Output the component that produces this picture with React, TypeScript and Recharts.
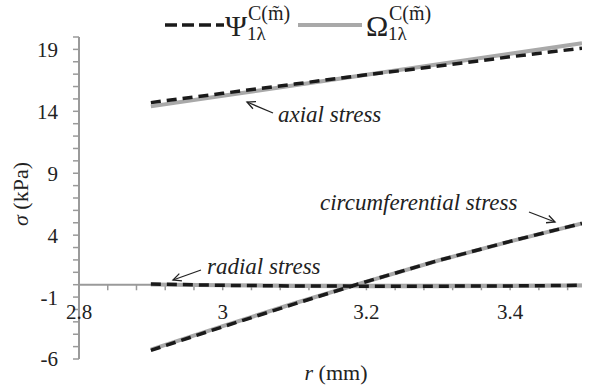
import React from "react";
import {
  LineChart,
  Line,
  XAxis,
  YAxis,
  ReferenceLine,
  Legend,
  Customized,
} from "recharts";

// radius r (mm)
const radius = [2.9, 3.0, 3.1, 3.2, 3.3, 3.4, 3.5];

// Ψ model (dashed black)
const psiAxial = [14.7, 15.45, 16.2, 16.95, 17.65, 18.4, 19.1];
const psiCircum = [-5.3, -3.4, -1.55, 0.25, 1.95, 3.5, 4.95];
const psiRadial = [0.05, -0.05, -0.1, -0.12, -0.12, -0.1, -0.05];

// Ω model (solid grey)
const omegaAxial = [14.4, 15.25, 16.1, 16.95, 17.8, 18.65, 19.5];
const omegaCircum = [-5.25, -3.35, -1.5, 0.25, 1.95, 3.5, 4.95];
const omegaRadial = [0.02, -0.05, -0.1, -0.12, -0.12, -0.1, -0.06];

const yTicks = [-6, -5, -4, -3, -2, -1, 0, 1, 2, 3, 4, 5, 6, 7, 8, 9, 10, 11, 12, 13, 14, 15, 16, 17, 18, 19, 20];
const yLabelled = [-6, -1, 4, 9, 14, 19];
const xTicks = [2.8, 2.84, 2.88, 2.92, 2.96, 3.0, 3.04, 3.08, 3.12, 3.16, 3.2, 3.24, 3.28, 3.32, 3.36, 3.4, 3.44, 3.48];
const xLabelled = [2.8, 3, 3.2, 3.4];

const rows = radius.map((r, i) => ({
  r,
  psiAxial: psiAxial[i],
  psiCircum: psiCircum[i],
  psiRadial: psiRadial[i],
  omegaAxial: omegaAxial[i],
  omegaCircum: omegaCircum[i],
  omegaRadial: omegaRadial[i],
}));

const SERIF = "Liberation Serif, DejaVu Serif, serif";
const AXIS = "#9a9a9a";
const INK = "#222";
const DASH = "#1a1a1a";
const GREY = "#a9a9a9";

function ModelLabel({ x, sym }: { x: number; sym: string }) {
  return (
    <g style={{ fontFamily: SERIF }} fill={INK}>
      <text x={x} y={36} fontSize={30}>{sym}</text>
      <text x={x + 23} y={20} fontSize={20}>C(m&#x0303;)</text>
      <text x={x + 22} y={40} fontSize={19}>1λ</text>
    </g>
  );
}

function LegendContent() {
  return (
    <div style={{ width: 590, height: 37, overflow: "visible" }}>
      <svg width={590} height={46} style={{ display: "block", overflow: "visible" }}>
        <line x1={165} x2={224} y1={25} y2={25} stroke={DASH} strokeWidth={3.5} strokeDasharray="12 5" />
        <ModelLabel x={225} sym="Ψ" />
        <line x1={298} x2={362} y1={25} y2={25} stroke={GREY} strokeWidth={4} />
        <ModelLabel x={366} sym="Ω" />
      </svg>
    </div>
  );
}

function Arrow({ x1, y1, x2, y2 }: { x1: number; y1: number; x2: number; y2: number }) {
  const a = Math.atan2(y2 - y1, x2 - x1);
  const len = 9;
  const spread = 0.45;
  const p1 = [x2 - len * Math.cos(a - spread), y2 - len * Math.sin(a - spread)];
  const p2 = [x2 - len * Math.cos(a + spread), y2 - len * Math.sin(a + spread)];
  return (
    <g stroke={INK} strokeWidth={1.3} fill="none">
      <line x1={x1} y1={y1} x2={x2} y2={y2} />
      <polyline points={`${p1[0]},${p1[1]} ${x2},${y2} ${p2[0]},${p2[1]}`} />
    </g>
  );
}

function Annotations() {
  return (
    <g style={{ fontFamily: SERIF }} fill={INK}>
      <text x={278} y={122} fontSize={23} fontStyle="italic">axial stress</text>
      <Arrow x1={273} y1={113} x2={247} y2={102} />
      <text x={320} y={210} fontSize={23} fontStyle="italic">circumferential stress</text>
      <Arrow x1={529} y1={212} x2={555} y2={222} />
      <text x={207} y={274} fontSize={23} fontStyle="italic">radial stress</text>
      <Arrow x1={201} y1={270} x2={173} y2={280} />
      <text transform="translate(28,194) rotate(-90)" textAnchor="middle" fontSize={22}>
        <tspan fontStyle="italic">σ</tspan> (kPa)
      </text>
      <text x={336} y={380} textAnchor="middle" fontSize={22}>
        <tspan fontStyle="italic">r</tspan> (mm)
      </text>
    </g>
  );
}

export default function App() {
  return (
    <div style={{ position: "absolute", left: 0, top: 0, width: 590, height: 387, background: "#fff", fontFamily: SERIF }}>
      <LineChart width={590} height={387} data={rows} margin={{ top: 0, right: 8, bottom: 28, left: 0 }} style={{ fontFamily: SERIF }}>
        <Legend
          verticalAlign="top"
          align="left"
          wrapperStyle={{ top: 0, left: 0, margin: 0, padding: 0 }}
          content={LegendContent}
        />
        <XAxis dataKey="r" type="number" domain={[2.8, 3.5]} allowDataOverflow hide />
        <YAxis
          type="number"
          domain={[-6, 20]}
          ticks={yTicks}
          interval={0}
          allowDataOverflow
          width={79}
          tickSize={6}
          tickMargin={15}
          axisLine={{ stroke: AXIS, strokeWidth: 2 }}
          tickLine={{ stroke: AXIS, strokeWidth: 1.5 }}
          tick={{ fill: INK, fontSize: 21, fontFamily: SERIF }}
          tickFormatter={(v: number) => (yLabelled.includes(v) ? String(v) : "")}
        />
        <ReferenceLine y={0} stroke={AXIS} strokeWidth={2} />
        {xTicks.map((t) => (
          <ReferenceLine
            key={t}
            segment={[{ x: t, y: 0 }, { x: t, y: -0.45 }]}
            stroke={AXIS}
            strokeWidth={1.5}
            label={
              xLabelled.includes(t)
                ? { value: String(t), position: "bottom", offset: 14, fill: INK, fontSize: 21, fontFamily: SERIF }
                : undefined
            }
          />
        ))}
        <Line dataKey="omegaAxial" stroke={GREY} strokeWidth={4} dot={false} isAnimationActive={false} />
        <Line dataKey="omegaCircum" stroke={GREY} strokeWidth={4} dot={false} isAnimationActive={false} />
        <Line dataKey="omegaRadial" stroke={GREY} strokeWidth={4} dot={false} isAnimationActive={false} />
        <Line dataKey="psiAxial" stroke={DASH} strokeWidth={3.5} strokeDasharray="10 6" dot={false} isAnimationActive={false} />
        <Line dataKey="psiCircum" stroke={DASH} strokeWidth={3.5} strokeDasharray="10 6" dot={false} isAnimationActive={false} />
        <Line dataKey="psiRadial" stroke={DASH} strokeWidth={3.5} strokeDasharray="10 6" dot={false} isAnimationActive={false} />
        <Customized component={Annotations} />
      </LineChart>
    </div>
  );
}
